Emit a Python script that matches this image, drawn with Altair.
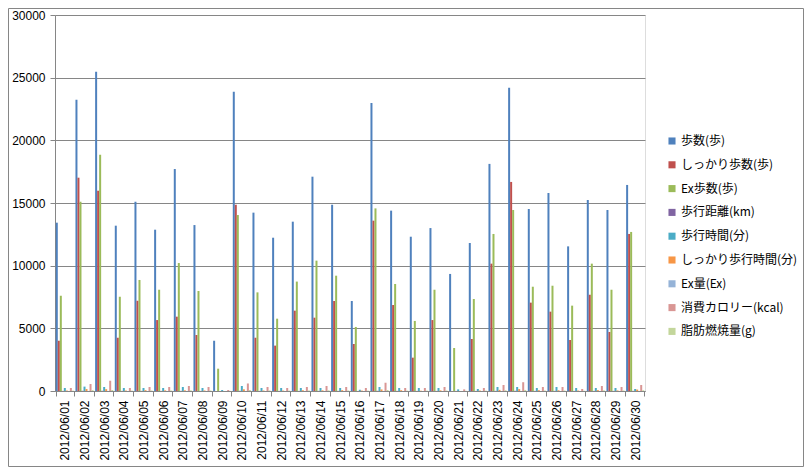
import altair as alt
import pandas as pd

dates = ["2012/06/01", "2012/06/02", "2012/06/03", "2012/06/04", "2012/06/05",
         "2012/06/06", "2012/06/07", "2012/06/08", "2012/06/09", "2012/06/10",
         "2012/06/11", "2012/06/12", "2012/06/13", "2012/06/14", "2012/06/15",
         "2012/06/16", "2012/06/17", "2012/06/18", "2012/06/19", "2012/06/20",
         "2012/06/21", "2012/06/22", "2012/06/23", "2012/06/24", "2012/06/25",
         "2012/06/26", "2012/06/27", "2012/06/28", "2012/06/29", "2012/06/30"]

series_names = ["歩数(歩)", "しっかり歩数(歩)", "Ex歩数(歩)", "歩行距離(km)", "歩行時間(分)",
                "しっかり歩行時間(分)", "Ex量(Ex)", "消費カロリー(kcal)", "脂肪燃焼量(g)"]

steps = [13430, 23240, 25480, 13190, 15100, 12870, 17710, 13240, 4010, 23880,
         14230, 12230, 13510, 17100, 14860, 7180, 22980, 14390, 12310, 13000,
         9340, 11810, 18120, 24200, 14520, 15800, 11540, 15240, 14440, 16440]
firm_steps = [4010, 17020, 15980, 4250, 7200, 5660, 5930, 4470, 0, 14860,
              4250, 3620, 6410, 5850, 7180, 3750, 13590, 6860, 2660, 5660,
              0, 4150, 10160, 16680, 7050, 6330, 4070, 7680, 4710, 12530]
ex_steps = [7600, 15100, 18850, 7520, 8860, 8080, 10210, 7980, 1780, 14040,
            7870, 5770, 8730, 10400, 9200, 5110, 14570, 8540, 5590, 8080,
            3430, 7340, 12530, 14440, 8320, 8400, 6810, 10160, 8080, 12690]
distance_km = [9.4, 16.3, 17.8, 9.2, 10.6, 9.0, 12.4, 9.3, 2.8, 16.7,
               10.0, 8.6, 9.5, 12.0, 10.4, 5.0, 16.1, 10.1, 8.6, 9.1,
               6.5, 8.3, 12.7, 16.9, 10.2, 11.1, 8.1, 10.7, 10.1, 11.5]
walk_min = [240, 350, 320, 240, 240, 240, 320, 240, 80, 400,
            240, 240, 240, 240, 240, 100, 320, 240, 240, 240,
            130, 160, 320, 320, 240, 320, 240, 240, 240, 160]
firm_walk_min = [36, 155, 145, 39, 65, 51, 54, 41, 0, 135,
                 39, 33, 58, 53, 65, 34, 124, 62, 24, 51,
                 0, 38, 92, 152, 64, 58, 37, 70, 43, 114]
ex_amount = [2, 5, 5, 2, 2, 2, 3, 2, 0, 4,
             2, 2, 2, 3, 2, 1, 4, 2, 1, 2,
             1, 2, 3, 5, 2, 2, 2, 2, 2, 4]
kcal = [240, 560, 820, 240, 320, 320, 400, 320, 80, 600,
        320, 240, 320, 400, 320, 240, 660, 240, 240, 320,
        130, 240, 480, 700, 320, 320, 160, 400, 320, 480]
fat_g = [30, 70, 80, 30, 40, 40, 50, 40, 10, 75,
         40, 30, 40, 50, 40, 30, 80, 30, 30, 40,
         15, 30, 60, 85, 40, 40, 20, 50, 40, 60]

y_ticks = [0, 5000, 10000, 15000, 20000, 25000, 30000]

colors = ["#4F81BD", "#C0504D", "#9BBB59", "#8064A2", "#4BACC6",
          "#F79646", "#95B3D7", "#D99694", "#C3D69B"]

all_series = [steps, firm_steps, ex_steps, distance_km, walk_min,
              firm_walk_min, ex_amount, kcal, fat_g]

rows = []
for name, vals in zip(series_names, all_series):
    for d, v in zip(dates, vals):
        rows.append({"date": d, "series": name, "value": v})
df = pd.DataFrame(rows)

bars = alt.Chart(df).mark_bar(size=2).encode(
    x=alt.X("date:N", sort=dates, title=None,
            scale=alt.Scale(paddingInner=0.08, paddingOuter=0.04),
            axis=alt.Axis(labelAngle=-90, labelFont="Liberation Sans", labelFontSize=12,
                          labelColor="#000000", tickBand="extent", tickSize=5,
                          tickColor="#868686", domainColor="#868686", labelPadding=4,
                          grid=False)),
    xOffset=alt.XOffset("series:N", sort=series_names,
                        scale=alt.Scale(paddingInner=0, paddingOuter=0)),
    y=alt.Y("value:Q", title=None,
            scale=alt.Scale(domain=[0, 30000], nice=False),
            axis=alt.Axis(values=y_ticks, format="d",
                          labelFont="Liberation Sans", labelFontSize=12,
                          labelColor="#000000", tickSize=5, tickColor="#868686",
                          domainColor="#868686", gridColor="#868686",
                          labelPadding=5)),
    color=alt.Color("series:N", sort=series_names,
                    scale=alt.Scale(domain=series_names, range=colors),
                    legend=alt.Legend(title=None, orient="none", legendX=611, legendY=120,
                                      symbolType="square", symbolSize=50,
                                      symbolStrokeWidth=0,
                                      labelFont="Noto Sans CJK JP", labelFontSize=12,
                                      labelColor="#000000", rowPadding=11.8,
                                      labelOffset=3)),
)

frame = alt.Chart(pd.DataFrame({"k": [0]})).mark_rect(
    fill=None, stroke="#868686", strokeWidth=1, clip=False
).encode(
    x=alt.value(-46.5), x2=alt.value(748.5),
    y=alt.value(-6.5), y2=alt.value(451.5)
)

chart = alt.layer(frame, bars).properties(
    width=590, height=376,
    autosize=alt.AutoSizeParams(type="none"),
    padding={"left": 47, "top": 7, "right": 159, "bottom": 76},
).configure_view(stroke=None).configure(background="#ffffff")

chart.save("out.html", embed_options={"renderer": "svg", "actions": False})
